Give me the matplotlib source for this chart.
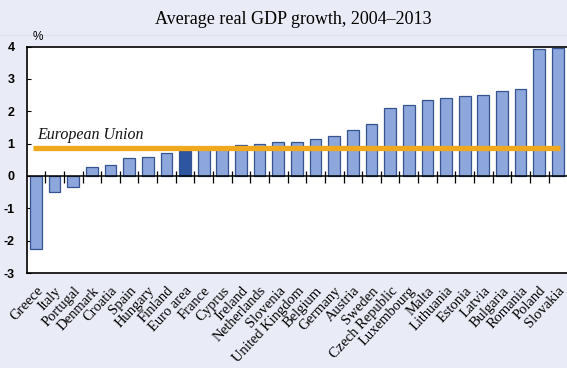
import matplotlib.pyplot as plt
import numpy as np

# average real GDP growth 2004-2013, %
countries = ['Greece', 'Italy', 'Portugal', 'Denmark', 'Croatia', 'Spain', 'Hungary',
             'Finland', 'Euro area', 'France', 'Cyprus', 'Ireland', 'Netherlands',
             'Slovenia', 'United Kingdom', 'Belgium', 'Germany', 'Austria', 'Sweden',
             'Czech Republic', 'Luxembourg', 'Malta', 'Lithuania', 'Estonia', 'Latvia',
             'Bulgaria', 'Romania', 'Poland', 'Slovakia']
growth = [-2.27, -0.5, -0.34, 0.29, 0.33, 0.57, 0.6, 0.72, 0.78, 0.85, 0.88, 0.96,
          1.0, 1.04, 1.04, 1.14, 1.22, 1.43, 1.61, 2.11, 2.18, 2.36, 2.40, 2.46,
          2.51, 2.64, 2.68, 3.92, 3.95]
eu_avg = 0.86
yticks = [-3, -2, -1, 0, 1, 2, 3, 4]

bg = '#e9ecf6'
fig = plt.figure(figsize=(5.67, 3.68), dpi=100, facecolor=bg)
ax = fig.add_axes([0.0476, 0.258, 0.9524, 0.6156])

x = np.arange(len(countries))
colors = ['#2e55a0' if c == 'Euro area' else '#8da6dc' for c in countries]
ax.bar(x, growth, width=0.63, color=colors, edgecolor='#34538f', linewidth=0.9, zorder=2)

# zero line with little separators between bars
ax.axhline(0, color='black', lw=1.1, zorder=3)
ax.vlines(x[:-1] + 0.5, -0.22, 0.15, color='black', lw=0.9, zorder=3)

# EU average
ax.plot([-0.16, 28.1], [eu_avg, eu_avg], color='#f0a81e', lw=3.8, solid_capstyle='butt', zorder=4)
ax.text(0.05, 1.15, 'European Union', family='Liberation Serif', style='italic',
        fontsize=11.5, color='#111111', zorder=5)

ax.set_xlim(-0.48, 28.49)
ax.set_ylim(-3, 4)
ax.set_yticks(yticks)
ax.set_yticklabels([str(t) for t in yticks], family='Liberation Sans', fontweight='bold', fontsize=9)
ax.tick_params(axis='y', direction='in', length=3, width=0.8, pad=9)
ax.set_xticks(x)
ax.set_xticklabels(countries, rotation=47, ha='right', va='top', rotation_mode='anchor',
                   family='Liberation Serif', fontsize=10.5)
ax.tick_params(axis='x', length=0, pad=8)

for s in ['left', 'top', 'bottom']:
    ax.spines[s].set_linewidth(1.2)
ax.spines['right'].set_visible(False)

fig.text(0.517, 0.947, 'Average real GDP growth, 2004\u20132013', ha='center', va='center',
         family='Liberation Serif', fontsize=13)
fig.text(0.067, 0.9, '%', ha='center', va='center', family='Liberation Sans', fontsize=8.5)
fig.add_artist(plt.Line2D([0, 1], [0.905, 0.905], color='#dde1ee', lw=0.8))

fig.savefig('out.png', dpi=100, facecolor=bg)
